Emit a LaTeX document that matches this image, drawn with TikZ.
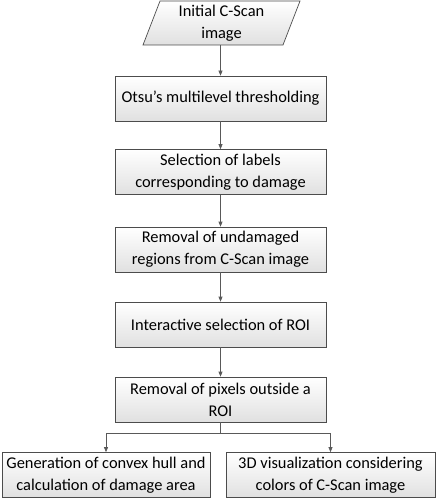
\documentclass[tikz,border=0pt]{standalone}
\usepackage{fontspec}
\setmainfont{Carlito}
\usetikzlibrary{arrows.meta,positioning,shapes.geometric}

\begin{document}
\begin{tikzpicture}[
			x=1pt,y=1pt,
			stepbox/.style={
				draw=black!70,
				line width=0.7pt,
				top color=white,
				bottom color=black!12,
				minimum width=211pt,
				minimum height=45pt,
				inner sep=1pt,
				align=center,
				font=\fontsize{16.4}{22}\selectfont,
				text=black
			},
			inputbox/.style={
				stepbox,
				trapezium,
				trapezium left angle=66,
				trapezium right angle=114,
				trapezium stretches body,
				minimum width=157pt,
				minimum height=44pt
			},
			arrow/.style={-{Triangle[length=5pt,width=4pt]},line width=0.7pt,draw=black!65}
			]
			\useasboundingbox (0,0) rectangle (438,-500);
			
			\node[inputbox] (scan) at (221.5,-23) {Initial C-Scan\\ image};
			
			\node[stepbox] (otsu) at (220.5,-98.5) {Otsu’s multilevel thresholding};
			\node[stepbox] (labels) at (220.5,-172) {Selection of labels\\ corresponding to damage};
			\node[stepbox] (undam) at (220.5,-249.5) {Removal of undamaged\\ regions from C-Scan image};
			\node[stepbox] (select) at (220.5,-324.5) {Interactive selection of ROI};
			\node[stepbox] (roi) at (220.5,-399.5) {Removal of pixels outside a\\ ROI};
			
			\node[stepbox,minimum width=208pt] (hull) at (106,-475) {Generation of convex hull and\\ calculation of damage area};
			\node[stepbox,minimum width=209pt] (vis) at (330.5,-475) {3D visualization considering\\ colors of C-Scan image};
			
			\draw[arrow] (scan.south -| otsu.north) -- (otsu.north);
			\draw[arrow] (otsu) -- (labels);
			\draw[arrow] (labels) -- (undam);
			\draw[arrow] (undam) -- (select);
			\draw[arrow] (select) -- (roi);
			
			% split towards the two results
			\coordinate (split) at (220.5,-433);
			\draw[line width=0.7pt,draw=black!65] (roi.south) -- (split);
			\draw[arrow] (split) -| (hull.north);
			\draw[arrow] (split) -| (vis.north);
			
		\end{tikzpicture}
\end{document}
